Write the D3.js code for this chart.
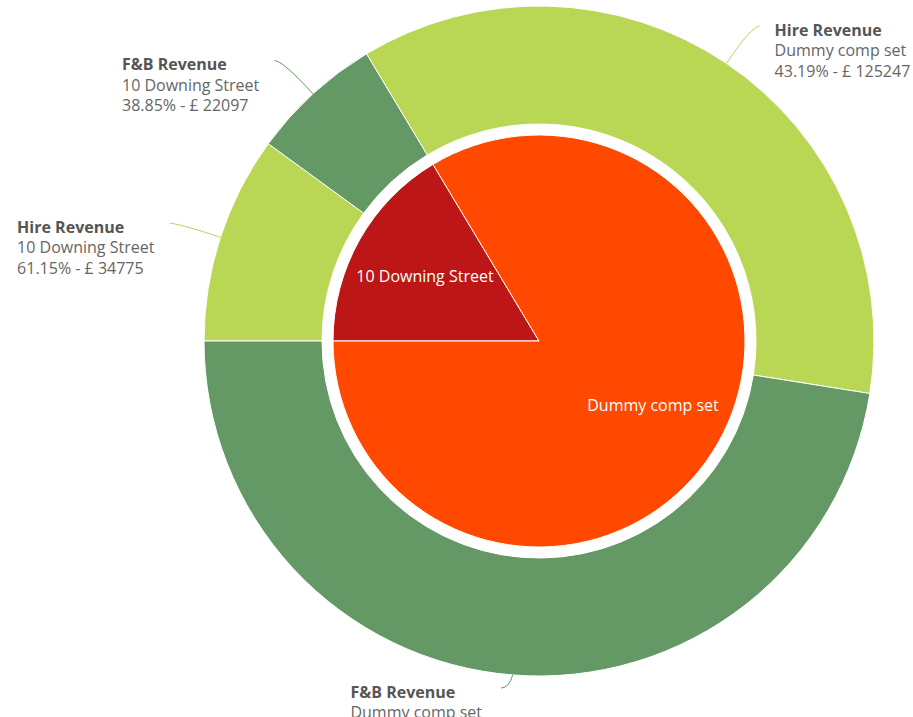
<!DOCTYPE html>
<html>
<head>
<meta charset="utf-8">
<script src="https://cdn.jsdelivr.net/npm/d3@7"></script>
<style>
  html, body { margin: 0; padding: 0; background: #fff; overflow: hidden; }
  text { font-family: "Open Sans", sans-serif; }
</style>
</head>
<body>
<svg id="chart" width="913" height="717"></svg>
<script>
// venues (inner pie) and revenue types (outer ring)
const venues = ["10 Downing Street", "Dummy comp set"];
const revenueTypes = ["Hire Revenue", "F&B Revenue"];
const hireValues = [34775, 125247];
const fbValues = [22097, 164744];

const venueColors = ["#bc1616", "#ff4800"];
const typeColors = ["#b9d755", "#649864"];

const W = 913, H = 717;
const cx = 539, cy = 341;
const pieR = 206, ringIn = 217, ringOut = 335;

const svg = d3.select("#chart");
const g = svg.append("g").attr("transform", "translate(" + cx + "," + cy + ")");

// build data
const inner = venues.map((v, i) => ({ name: v, value: hireValues[i] + fbValues[i], idx: i }));
const outer = [];
venues.forEach((v, i) => {
    const tot = hireValues[i] + fbValues[i];
    [hireValues[i], fbValues[i]].forEach((val, j) => {
        outer.push({ venue: v, type: revenueTypes[j], value: val, pct: val / tot * 100, t: j });
    });
});

const pie = d3.pie().sort(null).value(d => d.value)
    .startAngle(-Math.PI / 2).endAngle(Math.PI * 1.5);

const innerArc = d3.arc().innerRadius(0).outerRadius(pieR);
const outerArc = d3.arc().innerRadius(ringIn).outerRadius(ringOut);

// inner pie
const innerData = pie(inner);
g.append("g").selectAll("path")
    .data(innerData)
    .enter().append("path")
    .attr("d", innerArc)
    .style("fill", d => venueColors[d.data.idx])
    .style("stroke", "#fff")
    .style("stroke-width", 1);

g.append("g").selectAll("text")
    .data(innerData)
    .enter().append("text")
    .attr("transform", d => {
        const a = (d.startAngle + d.endAngle) / 2;
        return "translate(" + (Math.sin(a) * 131) + "," + (-Math.cos(a) * 131) + ")";
    })
    .attr("text-anchor", "middle")
    .attr("dy", "0.35em")
    .style("fill", "#fff")
    .style("font-size", "16px")
    .text(d => d.data.name);

// outer ring
const outerData = pie(outer);
g.append("g").selectAll("path")
    .data(outerData)
    .enter().append("path")
    .attr("d", outerArc)
    .style("fill", d => typeColors[d.data.t])
    .style("stroke", "#fff")
    .style("stroke-width", 1);

// outer labels with connectors
const maxY = 688 - cy;
const lbl = g.append("g");
outerData.forEach(d => {
    const a = (d.startAngle + d.endAngle) / 2;
    const rx = Math.sin(a), ry = -Math.cos(a);
    const ex = rx * ringOut, ey = ry * ringOut;
    let qx = ex + rx * 45, qy = ey + ry * 45;
    if (qy > maxY) qy = maxY;
    const side = rx >= 0 ? 1 : -1;
    const tx = qx + side * 8, ty = qy;

    lbl.append("path")
        .attr("d", "M" + ex + "," + ey + "Q" + qx + "," + qy + " " + tx + "," + ty)
        .style("fill", "none")
        .style("stroke", typeColors[d.data.t])
        .style("stroke-width", 1);

    const t = lbl.append("text")
        .style("font-size", "16px")
        .style("fill", "#666");
    const lines = [d.data.type, d.data.venue,
        d.data.pct.toFixed(2) + "% - £ " + d.data.value];
    lines.forEach((s, k) => {
        t.append("tspan")
            .attr("x", 0)
            .attr("y", k * 20.5)
            .attr("dy", "0.35em")
            .style("font-weight", k === 0 ? "bold" : "normal")
            .style("fill", k === 0 ? "#555" : "#666")
            .text(s);
    });
    const w = t.node().getBBox().width;
    const lx = side > 0 ? tx + 15 : tx - 15 - w;
    t.attr("transform", "translate(" + lx + "," + (ty + 4) + ")");
});
</script>
</body>
</html>
